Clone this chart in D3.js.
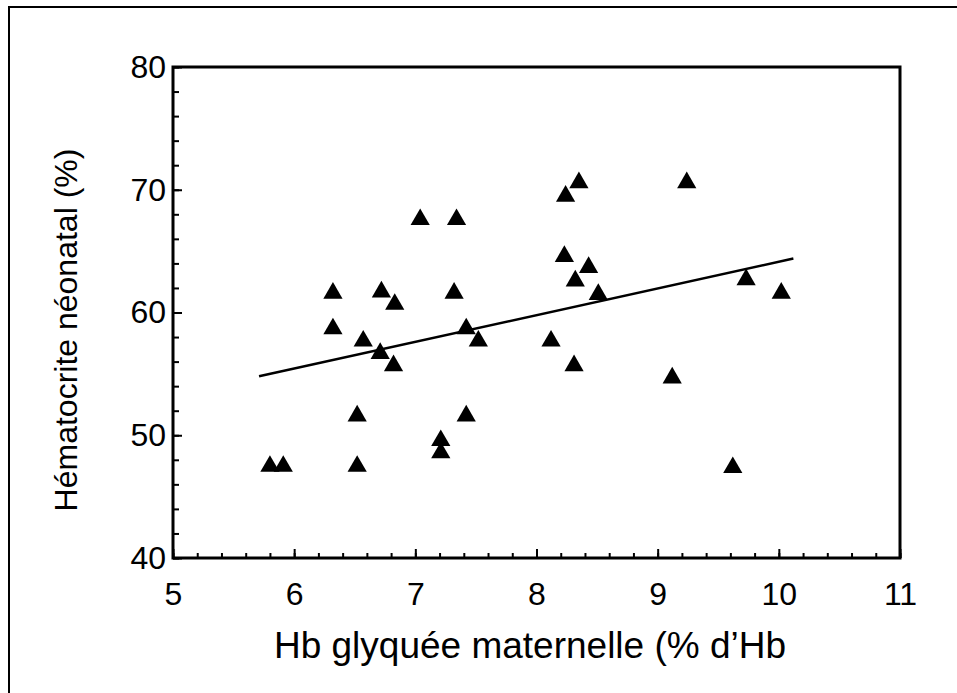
<!DOCTYPE html>
<html>
<head>
<meta charset="utf-8">
<script src="https://cdn.jsdelivr.net/npm/d3@7"></script>
<style>
  html, body { margin: 0; padding: 0; background: #fff; }
  svg { display: block; }
  text { font-family: "Liberation Sans", Arial, Helvetica, sans-serif; fill: #000; }
</style>
</head>
<body>
<svg id="chart" width="957" height="693"></svg>
<script>
// ---- data ----
const hbGlyquee = [5.80, 5.91, 6.52, 6.52, 6.32, 6.32, 6.57, 6.72, 6.83, 6.71, 6.82,
                   7.04, 7.34, 7.32, 7.42, 7.52, 7.42, 7.21, 7.21, 8.12, 8.31, 8.23,
                   8.32, 8.43, 8.51, 8.24, 8.35, 9.24, 9.12, 9.62, 9.73, 10.02];
const hematocrite = [47.7, 47.7, 47.7, 51.8, 61.8, 58.9, 57.9, 61.9, 60.9, 56.9, 55.9,
                     67.8, 67.8, 61.8, 58.9, 57.9, 51.8, 49.8, 48.8, 57.9, 55.9, 64.8,
                     62.8, 63.9, 61.7, 69.7, 70.8, 70.8, 54.9, 47.6, 62.9, 61.8];
const regressionX = [5.71, 10.12];
const regressionY = [54.8, 64.4];
const xTicks = [5, 6, 7, 8, 9, 10, 11];
const yTicks = [40, 50, 60, 70, 80];
const xTitle = "Hb glyquée maternelle (% d\u2019Hb";
const yTitle = "Hématocrite néonatal (%)";

// ---- layout ----
const svg = d3.select("#chart");
const x = d3.scaleLinear().domain([5, 11]).range([173, 900]);
const y = d3.scaleLinear().domain([40, 80]).range([558, 67]);

// outer frame (only left/top visible)
svg.append("rect")
  .attr("x", 9).attr("y", 7).attr("width", 980).attr("height", 720)
  .attr("fill", "none").attr("stroke", "#000").attr("stroke-width", 2);

// minor ticks
const xMinor = d3.range(5, 11.001, 0.2).map(v => +v.toFixed(1));
const yMinor = d3.range(40, 80.001, 2);

svg.append("g").attr("transform", `translate(0,${y(40)})`)
  .call(d3.axisBottom(x).tickValues(xMinor).tickSizeInner(-5).tickSizeOuter(0).tickFormat(""))
  .call(g => g.select(".domain").remove())
  .call(g => g.selectAll("line").attr("stroke-width", 2));

svg.append("g").attr("transform", `translate(${x(5)},0)`)
  .call(d3.axisLeft(y).tickValues(yMinor).tickSizeInner(-6).tickSizeOuter(0).tickFormat(""))
  .call(g => g.select(".domain").remove())
  .call(g => g.selectAll("line").attr("stroke-width", 2));

// major ticks + labels
svg.append("g").attr("transform", `translate(0,${y(40)})`)
  .call(d3.axisBottom(x).tickValues(xTicks).tickSizeInner(-9).tickSizeOuter(0)
        .tickPadding(24).tickFormat(d3.format("d")))
  .call(g => g.select(".domain").remove())
  .call(g => g.selectAll("line").attr("stroke-width", 2))
  .call(g => g.selectAll("text").attr("font-size", 32)
        .attr("font-family", "'Liberation Sans', Arial, sans-serif"));

svg.append("g").attr("transform", `translate(${x(5)},0)`)
  .call(d3.axisLeft(y).tickValues(yTicks).tickSizeInner(-9).tickSizeOuter(0)
        .tickPadding(7).tickFormat(d3.format("d")))
  .call(g => g.select(".domain").remove())
  .call(g => g.selectAll("line").attr("stroke-width", 2))
  .call(g => g.selectAll("text").attr("font-size", 32)
        .attr("font-family", "'Liberation Sans', Arial, sans-serif"));

// plot frame
svg.append("rect")
  .attr("x", x(5)).attr("y", y(80))
  .attr("width", x(11) - x(5)).attr("height", y(40) - y(80))
  .attr("fill", "none").attr("stroke", "#000").attr("stroke-width", 3);

// regression line
svg.append("line")
  .attr("x1", x(regressionX[0])).attr("y1", y(regressionY[0]))
  .attr("x2", x(regressionX[1])).attr("y2", y(regressionY[1]))
  .attr("stroke", "#000").attr("stroke-width", 2.5);

// points
const tri = d3.symbol().type(d3.symbolTriangle).size(160);
const triOffset = 0.5 * Math.sqrt(160 / (Math.sqrt(3) * 3)); // centre the bbox on the value
svg.append("g").selectAll("path")
  .data(d3.range(hbGlyquee.length))
  .join("path")
  .attr("d", tri)
  .attr("transform", i => `translate(${x(hbGlyquee[i])},${y(hematocrite[i]) + triOffset})`)
  .attr("fill", "#000");

// titles
svg.append("text")
  .attr("x", 530).attr("y", 658)
  .attr("text-anchor", "middle")
  .attr("font-size", 37)
  .text(xTitle);

svg.append("text")
  .attr("transform", "translate(77,330) rotate(-90)")
  .attr("text-anchor", "middle")
  .attr("font-size", 32)
  .text(yTitle);
</script>
</body>
</html>
